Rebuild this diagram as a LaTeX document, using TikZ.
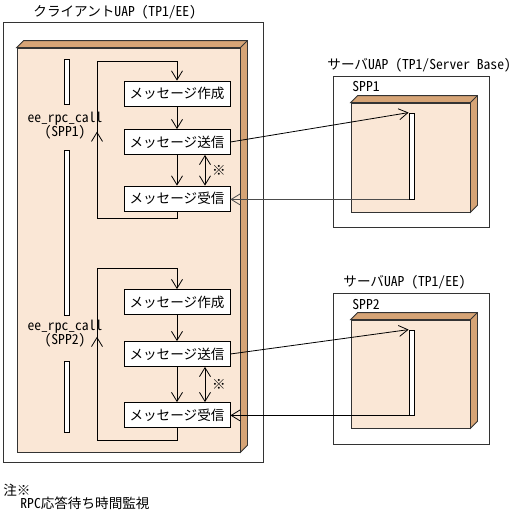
\documentclass[tikz,border=0pt]{standalone}
\usepackage{fontspec}
\setmainfont{Noto Sans CJK JP}[RawFeature=+hwid]
\usepackage{xcolor}
\definecolor{colorFront}{HTML}{FAE7D6}
\definecolor{colorSide}{HTML}{D6A476}
\colorlet{colorReturn}{black!70}
\usepackage{tikz}
\usetikzlibrary{arrows.meta, calc, positioning}
\tikzset{msgbox/.style={draw, fill=white, minimum width=106pt, minimum height=25pt, inner sep=0pt},
  bar/.style={draw, fill=white, minimum width=5pt, inner sep=0pt},
  front/.style={fill=colorFront, draw=black!80, inner sep=0pt},
  frame/.style={draw=black!80, thin}}
% cube faces behind a front node
\newcommand{\cubefaces}[1]{%
  \fill[colorSide, draw=black!80] (#1.north west) -- ++(7,-7) -| ($(#1.south east)+(7,-7)$) -- (#1.south east) -- (#1.north east) -- cycle;
  \draw[black!80] (#1.north east) -- ++(7,-7);}
\newcommand{\lpar}{\hspace{0.5em}(}

\begin{document}
\begin{tikzpicture}[x=1pt, y=-1pt, >={Straight Barb[length=9pt,width=11pt]}, line width=0.8pt,
  font=\fontsize{13.6pt}{14pt}\selectfont]
\useasboundingbox (0,0) rectangle (528,525);
% client side
\draw[frame] (3,22) rectangle (263,462);
\node[anchor=west, inner sep=0pt] (cliT) at (33,12) {クライアントUAP\lpar TP1/EE)};
\node[front, minimum width=223pt, minimum height=404pt] (cli) at (128.5,250) {};
\cubefaces{cli}
\node[bar, minimum height=45pt] (cb1) at (66.5,81.5) {};
\node[bar, minimum height=165pt] (cb2) at (66.5,232.5) {};
\node[bar, minimum height=71pt] (cb3) at (66.5,396.5) {};
\node[align=center, inner sep=0pt] (call1) at (65,126) {ee\_rpc\_call\\(SPP1)};
\node[align=center, inner sep=0pt] (call2) at (65,334) {ee\_rpc\_call\\(SPP2)};

\node[msgbox] (mk1) at (177,93.5) {メッセージ作成};
\node[msgbox] (sd1) at (177,142) {メッセージ送信};
\node[msgbox] (rv1) at (177,198.5) {メッセージ受信};
\node[msgbox] (mk2) at (177,302) {メッセージ作成};
\node[msgbox] (sd2) at (177,354) {メッセージ送信};
\node[msgbox] (rv2) at (177,415) {メッセージ受信};

\coordinate (lb1) at (97,218);
\coordinate (lt1) at (97,61);
\coordinate (lb2) at (97,440);
\coordinate (lt2) at (97,268);

\draw[->] (rv1.south) |- (lb1) -- (lt1) -| (mk1.north);
\draw[->] (lb1) -- ($(lb1)!0.55!(lt1)$);
\draw[->] (mk1) -- (sd1);
\draw[->] (sd1) -- (rv1);
\draw[<->] ($(sd1.south)+(28,0)$) -- ($(rv1.north)+(28,0)$);
\node[inner sep=0pt] (note1) at (219,170) {※};

\draw[->] (rv2.south) |- (lb2) -- (lt2) -| (mk2.north);
\draw[->] (lb2) -- ($(lb2)!0.6!(lt2)$);
\draw[->] (mk2) -- (sd2);
\draw[->] (sd2) -- (rv2);
\draw[<->] ($(sd2.south)+(28,0)$) -- ($(rv2.north)+(28,0)$);
\node[inner sep=0pt] (note2) at (219,384) {※};

% server side
\node[anchor=west, inner sep=0pt] (srvT1) at (327,65) {サーバUAP\lpar TP1/Server Base)};
\draw[frame] (333,76) rectangle (489,227);
\node[anchor=west, inner sep=0pt] (spp1) at (352,87) {SPP1};
\node[front, minimum width=119pt, minimum height=109pt] (srv1) at (410.5,157.5) {};
\cubefaces{srv1}
\node[bar, minimum height=86pt] (bar1) at (411.5,156) {};

\node[anchor=west, inner sep=0pt] (srvT2) at (343,282) {サーバUAP\lpar TP1/EE)};
\draw[frame] (333,293) rectangle (489,444);
\node[anchor=west, inner sep=0pt] (spp2) at (352,304) {SPP2};
\node[front, minimum width=119pt, minimum height=108pt] (srv2) at (410.5,374) {};
\cubefaces{srv2}
\node[bar, minimum height=85pt] (bar2) at (411.5,372.5) {};

\draw[->] (sd1.east) -- (bar1.north west);
\draw[->, colorReturn] (bar1.south west) -- (rv1.east |- bar1.south west);
\draw[->] (sd2.east) -- (bar2.north west);
\draw[->] (bar2.south west) -- (rv2.east |- bar2.south west);

% note
\node[anchor=west, inner sep=0pt] (chu) at (3,490) {注※};
\node[anchor=west, inner sep=0pt] (chuT) at (20,503) {RPC応答待ち時間監視};
\end{tikzpicture}
\end{document}
